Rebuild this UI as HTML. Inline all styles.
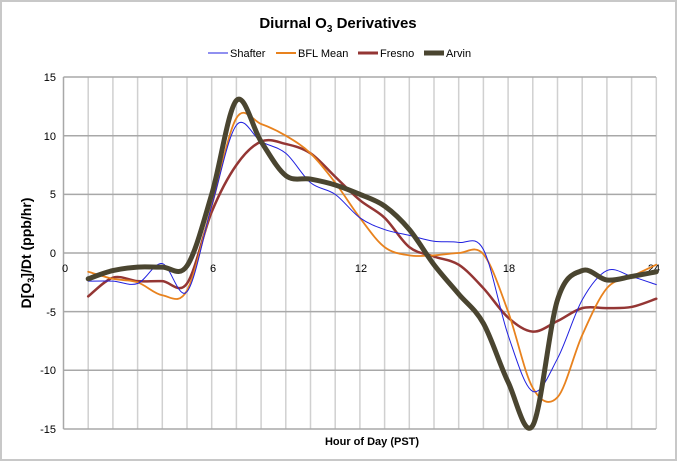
<!DOCTYPE html>
<html><head><style>
body{margin:0;background:#fff;}
svg{display:block;font-family:"Liberation Sans",sans-serif;}
</style></head><body>
<svg id="s" width="677" height="461" xmlns="http://www.w3.org/2000/svg">
<rect x="1" y="1" width="675" height="459" fill="#fff" stroke="#c8c8c8" stroke-width="2"/>
<text x="338" y="28" text-anchor="middle" font-size="15" font-weight="bold">Diurnal O<tspan font-size="10" dy="4">3</tspan><tspan dy="-4"> Derivatives</tspan></text>
<g font-size="11">
<line x1="208" y1="53" x2="228" y2="53" stroke="#2020e0" stroke-width="1"/><text x="230" y="57">Shafter</text>
<line x1="276" y1="53" x2="296" y2="53" stroke="#e8821e" stroke-width="2"/><text x="298" y="57">BFL Mean</text>
<line x1="358" y1="53" x2="378" y2="53" stroke="#943634" stroke-width="3"/><text x="380" y="57">Fresno</text>
<line x1="424" y1="53" x2="444" y2="53" stroke="#4a4530" stroke-width="5"/><text x="446" y="57">Arvin</text>
</g>
<g id="grid"></g>
<g font-size="11" text-anchor="end">
<text x="56" y="81">15</text><text x="56" y="140">10</text><text x="56" y="198">5</text>
<text x="56" y="257">0</text><text x="56" y="316">-5</text><text x="56" y="374">-10</text><text x="56" y="433">-15</text>
</g>
<g font-size="11" text-anchor="middle">
<text x="65" y="272">0</text><text x="213" y="272">6</text><text x="361" y="272">12</text><text x="509" y="272">18</text><text x="654" y="272">24</text>
</g>
<text x="372" y="445" text-anchor="middle" font-size="11" font-weight="bold">Hour of Day  (PST)</text>
<text transform="translate(31,253) rotate(-90)" text-anchor="middle" font-size="14" font-weight="bold">D[O<tspan font-size="9" dy="3">3</tspan><tspan dy="-3">]/Dt  (ppb/hr)</tspan></text>
<g id="lines" fill="none" stroke-linejoin="round" stroke-linecap="round"></g>
</svg>
<script>
var X=function(h){return 63.5+h*24.7},Y=function(v){return 253-v*11.73};
var g=document.getElementById('grid'),s='';
for(var h=1;h<=24;h++)s+='<line x1="'+X(h)+'" y1="77" x2="'+X(h)+'" y2="429" stroke="#d0d0d0" stroke-width="1.5"/>';
[15,10,5,0,-5,-10,-15].forEach(function(v){s+='<line x1="63.5" y1="'+Y(v)+'" x2="656" y2="'+Y(v)+'" stroke="#a8a8a8" stroke-width="1.5"/>';});
s+='<line x1="63.5" y1="77" x2="63.5" y2="429" stroke="#a8a8a8" stroke-width="1.5"/>';
g.innerHTML=s;
function path(d){var p=d.map(function(v,i){return[X(i+1),Y(v)]});var o='M'+p[0][0]+','+p[0][1];
for(var i=0;i<p.length-1;i++){var p0=p[i-1]||p[i],p1=p[i],p2=p[i+1],p3=p[i+2]||p2;
o+=' C'+(p1[0]+(p2[0]-p0[0])/6)+','+(p1[1]+(p2[1]-p0[1])/6)+' '+(p2[0]-(p3[0]-p1[0])/6)+','+(p2[1]-(p3[1]-p1[1])/6)+' '+p2[0]+','+p2[1];}return o;}
var S=[
[[-3.7,-2.1,-2.4,-2.4,-2.6,3.5,7.5,9.5,9.3,8.5,6.5,4.5,3,0.5,-0.3,-1,-3,-5.5,-6.7,-5.8,-4.7,-4.7,-4.6,-3.9],'#943634',2.5],
[[-1.6,-2.2,-2.5,-3.6,-3.2,4,11.5,11,10,8.5,6,3,0.5,-0.2,-0.2,0,-0.1,-5,-11.5,-12.3,-7,-3,-2,-1],'#e8821e',1.8],
[[-2.4,-2.4,-2.6,-0.9,-3.3,4,10.9,9.5,8.5,6,5,3,2,1.5,1,0.9,0.3,-7,-11.8,-9,-4,-1.5,-2,-2.7],'#2020e0',1],
[[-2.2,-1.5,-1.2,-1.2,-1.1,5,13,9.5,6.6,6.3,5.8,5,4,2,-1,-3.5,-6,-11,-14.7,-4,-1.5,-2.3,-2,-1.6],'#4a4530',5]];
var l='';S.forEach(function(a){l+='<path d="'+path(a[0])+'" stroke="'+a[1]+'" stroke-width="'+a[2]+'"/>';});
document.getElementById('lines').innerHTML=l;
</script>
</body></html>
